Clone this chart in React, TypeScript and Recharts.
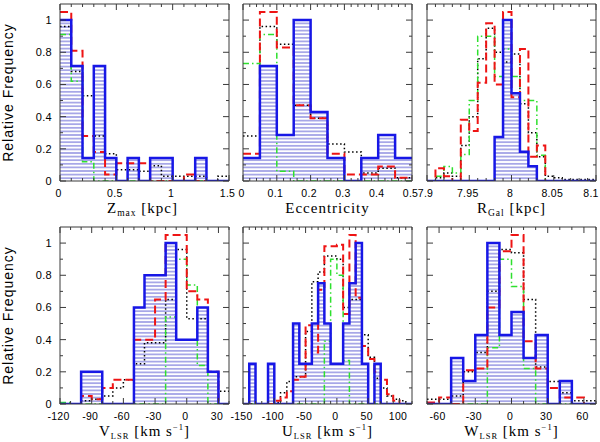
import { ComposedChart, Area, Line, XAxis, YAxis } from "recharts";

// ---- Z_max [kpc] ----
const zmaxEdges = [0, 0.1, 0.2, 0.3, 0.4, 0.5, 0.6, 0.7, 0.8, 0.9, 1.0, 1.1, 1.2, 1.3, 1.4, 1.5];
const zmaxBlue = [1, 0.714, 0.143, 0.714, 0.143, 0, 0.143, 0, 0.143, 0.143, 0, 0, 0.143, 0, 0];
const zmaxRed = [1.05, 0.81, 0.28, 0.18, 0.04, 0.11, 0.11, 0.11, 0, 0, 0, 0.04, 0, 0, 0];
const zmaxBlack = [0.96, 0.68, 0.53, 0.28, 0.17, 0.07, 0.07, 0.06, 0.095, 0.03, 0.03, 0.03, 0.03, 0, 0.03];
const zmaxGreen = [0.91, 0.62, 0.12, 0, 0, 0, 0, 0, 0, 0, 0, 0, 0, 0, 0];
const zmaxTicks = [0, 0.5, 1, 1.5];

// ---- Eccentricity ----
const eccEdges = [0, 0.05, 0.1, 0.15, 0.2, 0.25, 0.3, 0.35, 0.4, 0.45, 0.5];
const eccBlue = [0.143, 0.714, 0.286, 1, 0.429, 0.143, 0, 0.143, 0.286, 0.143];
const eccRed = [0.17, 1.05, 0.83, 0.47, 0.39, 0.17, 0.04, 0.04, 0.09, 0.02];
const eccBlack = [0.28, 0.96, 0.85, 0.47, 0.39, 0.23, 0.18, 0.05, 0.08, 0.02];
const eccGreen = [0.73, 0.91, 0.06, 0, 0, 0, 0, 0, 0, 0];
const eccTicks = [0, 0.1, 0.2, 0.3, 0.4, 0.5];

// ---- R_Gal [kpc] ----
const rgalEdges = [7.9, 7.91, 7.92, 7.93, 7.94, 7.95, 7.96, 7.97, 7.98, 7.99, 8.0, 8.01, 8.02, 8.03, 8.04, 8.05, 8.06, 8.07, 8.08, 8.09, 8.1];
const rgalBlue = [0, 0, 0, 0, 0, 0, 0, 0, 0.273, 1, 0.545, 0.182, 0.091, 0, 0, 0, 0, 0, 0, 0];
const rgalRed = [0, 0.08, 0.03, 0, 0.38, 0.31, 0.61, 0.98, 0.6, 1.05, 0.52, 0.82, 0.15, 0.22, 0, 0, 0, 0, 0, 0];
const rgalBlack = [0, 0.02, 0.05, 0.03, 0.22, 0.4, 0.76, 0.95, 0.8, 0.74, 0.79, 0.48, 0.3, 0.15, 0.03, 0.02, 0.01, 0.01, 0.01, 0.01];
const rgalGreen = [0, 0.03, 0.09, 0.05, 0.165, 0.5, 0.9, 0.9, 0.65, 0.82, 0.65, 0.5, 0.5, 0.16, 0, 0, 0, 0, 0, 0];
const rgalTicks = [7.9, 7.95, 8, 8.05, 8.1];

// ---- V_LSR ----
const vEdges = [-120, -110, -100, -90, -80, -70, -60, -50, -40, -30, -20, -10, 0, 10, 20, 30, 40];
const vBlue = [0, 0, 0.2, 0.2, 0, 0, 0, 0.6, 0.8, 0.8, 1, 0.4, 0.4, 0.6, 0.2, 0];
const vRed = [0, 0, 0.05, 0.03, 0.1, 0.15, 0.15, 0.4, 0.4, 0.65, 1.05, 1.05, 0.7, 0.65, 0.2, 0];
const vBlack = [0, 0, 0.02, 0.03, 0.05, 0.1, 0.15, 0.25, 0.38, 0.38, 0.65, 0.96, 0.53, 0.53, 0.2, 0.08];
const vGreen = [0.01, 0, 0, 0, 0, 0, 0, 0, 0, 0, 0.54, 0.9, 0.74, 0.24, 0, 0];
const vTicks = [-120, -90, -60, -30, 0, 30];

// ---- U_LSR ----
const uEdges = [-150, -140, -130, -120, -110, -100, -90, -80, -70, -60, -50, -40, -30, -20, -10, 0, 10, 20, 30, 40, 50, 60, 70, 80, 90, 100, 110, 120];
const uBlue = [0, 0.25, 0, 0, 0.25, 0, 0, 0, 0.5, 0.25, 0.25, 0.5, 0.75, 0.5, 0.25, 0.25, 0.5, 0.75, 1, 0.25, 0, 0.25, 0, 0, 0, 0, 0];
const uRed = [0, 0, 0, 0, 0, 0.02, 0.04, 0.08, 0.15, 0.17, 0.49, 0.32, 0.71, 0.98, 0.98, 0.99, 0.56, 1.05, 0.66, 0.36, 0.28, 0.2, 0.15, 0.06, 0.02, 0, 0];
const uBlack = [0, 0, 0, 0, 0, 0.01, 0.07, 0.14, 0.17, 0.17, 0.45, 0.76, 0.82, 0.92, 0.92, 0.9, 0.6, 0.65, 0.65, 0.43, 0.29, 0.16, 0.1, 0.05, 0.03, 0.02, 0];
const uGreen = [0, 0, 0, 0, 0, 0, 0, 0, 0, 0, 0, 0, 0, 0.39, 0.9, 0.8, 0.27, 0, 0, 0, 0, 0, 0, 0, 0, 0, 0];
const uTicks = [-150, -100, -50, 0, 50, 100];

// ---- W_LSR ----
const wEdges = [-70, -60, -50, -40, -30, -20, -10, 0, 10, 20, 30, 40, 50, 60, 70];
const wBlue = [0, 0, 0.286, 0.143, 0.429, 1, 0.429, 0.571, 0.286, 0.429, 0, 0.143, 0, 0];
const wRed = [0.01, 0.04, 0, 0.21, 0.22, 0.6, 0.95, 1.05, 0.39, 0.22, 0.1, 0.04, 0.04, 0];
const wBlack = [0.03, 0.03, 0.05, 0.2, 0.32, 0.7, 0.96, 0.94, 0.65, 0.23, 0.14, 0.07, 0.02, 0.02];
const wGreen = [0, 0, 0, 0, 0, 0.35, 0.9, 0.73, 0.22, 0, 0, 0, 0, 0];
const wTicks = [-60, -30, 0, 30, 60];

const freqTicks = [0, 0.2, 0.4, 0.6, 0.8, 1];

const PAGE_W = 600;
const PW = 169;
const PH = 177;
const PAD_T = 4;
const PAD_R = 14;
const PAD_B = 36;
const FRAME = "#3a3a3a";
const BLUE = "#1717e6";
const HATCH = "#4646cc";
const RED = "#ee1414";
const GREEN = "#2ee02e";
const SANS = "'Liberation Sans', Arial, sans-serif";
const SERIF = "'Liberation Serif', 'Times New Roman', serif";

function fmt(v: number) {
  return String(parseFloat(v.toFixed(3)));
}

function withMinor(lo: number, hi: number, step: number) {
  const out: number[] = [];
  const n = Math.round((hi - lo) / step);
  for (let i = 0; i <= n; i++) out.push(parseFloat((lo + i * step).toFixed(6)));
  return out;
}

function histTable(edges: number[], blue: number[], red: number[], black: number[], green: number[]) {
  return edges.map((x, i) => {
    const j = Math.min(i, blue.length - 1);
    return { x, blue: blue[j], red: red[j], black: black[j], green: green[j] };
  });
}

// inward tick marks drawn by hand, label only on the major ones
function makeTick(side: string, majors: number[], showLabel: boolean, maxLabelX = Infinity) {
  return function TickMark(props: any) {
    const { x, y, payload } = props;
    const v = payload.value;
    const major = majors.some((m) => Math.abs(m - v) < 1e-6);
    const len = major ? 6 : 3;
    let x2 = x;
    let y2 = y;
    if (side === "bottom") y2 = y - len;
    if (side === "top") y2 = y + len;
    if (side === "left") x2 = x + len;
    if (side === "right") x2 = x - len;
    return (
      <g>
        <line x1={x} y1={y} x2={x2} y2={y2} stroke={FRAME} strokeWidth={1} />
        {showLabel && major && side === "bottom" && (
          <text x={Math.min(x - 1.5, maxLabelX)} y={y + 16} textAnchor="middle" fontFamily={SANS} fontSize={10.5} letterSpacing={0.3} fill="#000">
            {fmt(v)}
          </text>
        )}
        {showLabel && major && side === "left" && (
          <text x={x - 8} y={y + 4} textAnchor="end" fontFamily={SANS} fontSize={11} letterSpacing={0.3} fill="#000">
            {fmt(v)}
          </text>
        )}
      </g>
    );
  };
}

interface PanelProps {
  id: string;
  plotX: number;
  plotY: number;
  padL: number;
  edges: number[];
  blue: number[];
  red: number[];
  black: number[];
  green: number[];
  majors: number[];
  minorStep: number;
  yLabels: boolean;
}

function HistPanel({ id, plotX, plotY, padL, edges, blue, red, black, green, majors, minorStep, yLabels }: PanelProps) {
  const data = histTable(edges, blue, red, black, green);
  const lo = edges[0];
  const hi = edges[edges.length - 1];
  const xTicks = withMinor(lo, hi, minorStep);
  const yTicks = withMinor(0, 1, 0.1);
  const left = plotX - padL;
  const maxLabelX = PAGE_W - left - 9;
  return (
    <div style={{ position: "absolute", left, top: plotY - PAD_T }}>
      <ComposedChart
        width={padL + PW + PAD_R}
        height={PAD_T + PH + PAD_B}
        data={data}
        margin={{ top: 0, right: 0, bottom: 0, left: 0 }}
      >
        <defs>
          <pattern id={`hatch-${id}`} width="4" height="3.6" patternUnits="userSpaceOnUse">
            <line x1="0" y1="1.8" x2="4" y2="1.8" stroke={HATCH} strokeWidth={0.9} />
          </pattern>
        </defs>
        <XAxis
          dataKey="x"
          type="number"
          domain={[lo, hi]}
          allowDataOverflow
          ticks={xTicks}
          interval={0}
          height={PAD_B}
          tickSize={0}
          tickMargin={0}
          tickLine={false}
          stroke={FRAME}
          tick={makeTick("bottom", majors, true, maxLabelX)}
        />
        <XAxis
          xAxisId="top"
          orientation="top"
          dataKey="x"
          type="number"
          domain={[lo, hi]}
          allowDataOverflow
          ticks={xTicks}
          interval={0}
          height={PAD_T}
          tickSize={0}
          tickMargin={0}
          tickLine={false}
          stroke={FRAME}
          tick={makeTick("top", majors, false)}
        />
        <YAxis
          type="number"
          domain={[0, 1.1]}
          allowDataOverflow
          ticks={yTicks}
          interval={0}
          width={padL}
          tickSize={0}
          tickMargin={0}
          tickLine={false}
          stroke={FRAME}
          tick={makeTick("left", freqTicks, yLabels)}
        />
        <YAxis
          yAxisId="right"
          orientation="right"
          type="number"
          domain={[0, 1.1]}
          allowDataOverflow
          ticks={yTicks}
          interval={0}
          width={PAD_R}
          tickSize={0}
          tickMargin={0}
          tickLine={false}
          stroke={FRAME}
          tick={makeTick("right", freqTicks, false)}
        />
        <Area
          type="stepAfter"
          dataKey="blue"
          stroke="none"
          fill={`url(#hatch-${id})`}
          fillOpacity={1}
          isAnimationActive={false}
        />
        <Line type="stepAfter" dataKey="black" stroke="#000" strokeWidth={1.5} strokeDasharray="1.5 2.5" dot={false} isAnimationActive={false} />
        <Line type="stepAfter" dataKey="green" stroke={GREEN} strokeWidth={1.5} strokeDasharray="6 3 1.5 3" dot={false} isAnimationActive={false} />
        <Line type="stepAfter" dataKey="red" stroke={RED} strokeWidth={2} strokeDasharray="8 4" dot={false} isAnimationActive={false} />
        <Line type="stepAfter" dataKey="blue" stroke={BLUE} strokeWidth={2.5} dot={false} isAnimationActive={false} />
      </ComposedChart>
    </div>
  );
}

const COLS = [60, 243, 427];
const ROWS = [4, 227];

function Titles() {
  const cx = COLS.map((c) => c + PW / 2);
  const topBase = 213;
  const botBase = 436;
  const t = { fontFamily: SERIF, fontSize: 15, letterSpacing: 1, fill: "#000", textAnchor: "middle" as const };
  return (
    <svg width={600} height={442} style={{ position: "absolute", left: 0, top: 0, pointerEvents: "none" }}>
      <text {...t} x={cx[0] - 2} y={topBase}>
        Z<tspan fontSize={9.5} dy={3}>max</tspan>
        <tspan dy={-3}>{" [kpc]"}</tspan>
      </text>
      <text {...t} x={cx[1]} y={topBase}>Eccentricity</text>
      <text {...t} x={cx[2]} y={topBase}>
        R<tspan fontSize={9.5} dy={3}>Gal</tspan>
        <tspan dy={-3}>{" [kpc]"}</tspan>
      </text>
      {[["V", 0], ["U", 1], ["W", 2]].map(([s, i]) => (
        <text key={s as string} {...t} x={cx[i as number]} y={botBase}>
          {s}
          <tspan fontSize={8.5} dy={3}>LSR</tspan>
          <tspan dy={-3}>{" [km s"}</tspan>
          <tspan fontSize={8.5} dy={-6}>−1</tspan>
          <tspan dy={6}>]</tspan>
        </text>
      ))}
      {ROWS.map((r) => (
        <text
          key={r}
          transform={`translate(12.5, ${r + PH / 2}) rotate(-90)`}
          textAnchor="middle"
          fontFamily={SANS}
          fontSize={14}
          letterSpacing={1}
          fill="#000"
        >
          Relative Frequency
        </text>
      ))}
    </svg>
  );
}

export default function App() {
  return (
    <div style={{ position: "relative", width: PAGE_W, height: 442, overflow: "hidden", background: "#fff" }}>
      <style>{"body{margin:0}"}</style>
      <HistPanel id="zmax" plotX={COLS[0]} plotY={ROWS[0]} padL={60} edges={zmaxEdges} blue={zmaxBlue} red={zmaxRed} black={zmaxBlack} green={zmaxGreen} majors={zmaxTicks} minorStep={0.1} yLabels />
      <HistPanel id="ecc" plotX={COLS[1]} plotY={ROWS[0]} padL={14} edges={eccEdges} blue={eccBlue} red={eccRed} black={eccBlack} green={eccGreen} majors={eccTicks} minorStep={0.02} yLabels={false} />
      <HistPanel id="rgal" plotX={COLS[2]} plotY={ROWS[0]} padL={14} edges={rgalEdges} blue={rgalBlue} red={rgalRed} black={rgalBlack} green={rgalGreen} majors={rgalTicks} minorStep={0.01} yLabels={false} />
      <HistPanel id="v" plotX={COLS[0]} plotY={ROWS[1]} padL={60} edges={vEdges} blue={vBlue} red={vRed} black={vBlack} green={vGreen} majors={vTicks} minorStep={10} yLabels />
      <HistPanel id="u" plotX={COLS[1]} plotY={ROWS[1]} padL={14} edges={uEdges} blue={uBlue} red={uRed} black={uBlack} green={uGreen} majors={uTicks} minorStep={10} yLabels={false} />
      <HistPanel id="w" plotX={COLS[2]} plotY={ROWS[1]} padL={14} edges={wEdges} blue={wBlue} red={wRed} black={wBlack} green={wGreen} majors={wTicks} minorStep={10} yLabels={false} />
      <Titles />
    </div>
  );
}
